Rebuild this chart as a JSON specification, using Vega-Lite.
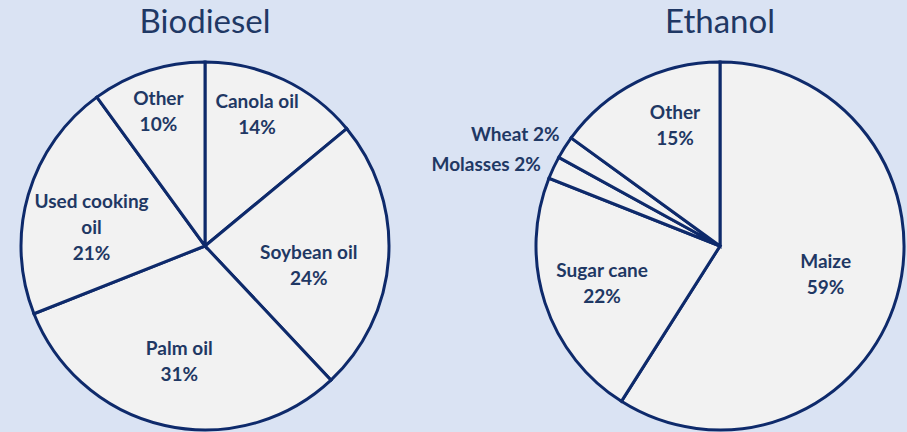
{
  "$schema": "https://vega.github.io/schema/vega-lite/v6.json",
  "background": "#dae3f3",
  "padding": {"left": 0, "right": 0, "top": 7, "bottom": 0},
  "spacing": 123,
  "bounds": "flush",
  "config": {
    "view": {"stroke": null},
    "title": {"font": "Lato", "fontSize": 33, "fontWeight": "normal", "color": "#1f3864", "offset": 16},
    "text": {"font": "Lato", "fontSize": 19, "fontWeight": "bold", "color": "#1f3864", "lineHeight": 26, "lineBreak": "\n", "baseline": "middle"}
  },
  "datasets": {
    "biodiesel": [
      {"fuel": "Canola oil", "share": 14, "o": 1, "label": "Canola oil\n14%"},
      {"fuel": "Soybean oil", "share": 24, "o": 2, "label": "Soybean oil\n24%"},
      {"fuel": "Palm oil", "share": 31, "o": 3, "label": "Palm oil\n31%"},
      {"fuel": "Used cooking oil", "share": 21, "o": 4, "label": "Used cooking\noil\n21%"},
      {"fuel": "Other", "share": 10, "o": 5, "label": "Other\n10%"}
    ],
    "ethanol": [
      {"fuel": "Maize", "share": 59, "o": 1, "label": "Maize\n59%"},
      {"fuel": "Sugar cane", "share": 22, "o": 2, "label": "Sugar cane\n22%"},
      {"fuel": "Molasses", "share": 2, "o": 3, "label": "Molasses 2%"},
      {"fuel": "Wheat", "share": 2, "o": 4, "label": "Wheat 2%"},
      {"fuel": "Other", "share": 15, "o": 5, "label": "Other\n15%"}
    ]
  },
  "hconcat": [
    {
      "title": "Biodiesel",
      "width": 410,
      "height": 376,
      "data": {"name": "biodiesel"},
      "encoding": {
        "theta": {"field": "share", "type": "quantitative", "stack": true},
        "order": {"field": "o", "type": "quantitative"}
      },
      "layer": [
        {"mark": {"type": "arc", "radius": 184, "fill": "#f2f2f2", "stroke": "#0e2a6b", "strokeWidth": 3}},
        {"mark": {"type": "text", "radius": 141, "dx": -8, "dy": -16},
         "encoding": {"text": {"condition": {"test": "datum.fuel === 'Canola oil'", "field": "label", "type": "nominal"}, "value": ""}}},
        {"mark": {"type": "text", "radius": 141, "dx": -3, "dy": -13},
         "encoding": {"text": {"condition": {"test": "datum.fuel === 'Other'", "field": "label", "type": "nominal"}, "value": ""}}},
        {"mark": {"type": "text", "radius": 104, "dx": 0, "dy": 0},
         "encoding": {"text": {"condition": {"test": "datum.fuel === 'Soybean oil'", "field": "label", "type": "nominal"}, "value": ""}}},
        {"mark": {"type": "text", "radius": 118, "dx": 0, "dy": -12},
         "encoding": {"text": {"condition": {"test": "datum.fuel === 'Palm oil'", "field": "label", "type": "nominal"}, "value": ""}}},
        {"mark": {"type": "text", "radius": 115, "dx": -3, "dy": -12},
         "encoding": {"text": {"condition": {"test": "datum.fuel === 'Used cooking oil'", "field": "label", "type": "nominal"}, "value": ""}}}
      ]
    },
    {
      "title": "Ethanol",
      "width": 374,
      "height": 376,
      "data": {"name": "ethanol"},
      "encoding": {
        "theta": {"field": "share", "type": "quantitative", "stack": true},
        "order": {"field": "o", "type": "quantitative"}
      },
      "layer": [
        {"mark": {"type": "arc", "radius": 184, "fill": "#f2f2f2", "stroke": "#0e2a6b", "strokeWidth": 3}},
        {"mark": {"type": "text", "radius": 110, "dx": 0, "dy": -15},
         "encoding": {"text": {"condition": {"test": "datum.fuel === 'Maize'", "field": "label", "type": "nominal"}, "value": ""}}},
        {"mark": {"type": "text", "radius": 124, "dx": 0, "dy": -13},
         "encoding": {"text": {"condition": {"test": "datum.fuel === 'Sugar cane'", "field": "label", "type": "nominal"}, "value": ""}}},
        {"mark": {"type": "text", "radius": 198, "dx": 0, "dy": 3, "align": "right"},
         "encoding": {"text": {"condition": {"test": "datum.fuel === 'Molasses'", "field": "label", "type": "nominal"}, "value": ""}}},
        {"mark": {"type": "text", "radius": 196, "dx": 5, "dy": -6, "align": "right"},
         "encoding": {"text": {"condition": {"test": "datum.fuel === 'Wheat'", "field": "label", "type": "nominal"}, "value": ""}}},
        {"mark": {"type": "text", "radius": 130, "dx": 14, "dy": -17},
         "encoding": {"text": {"condition": {"test": "datum.fuel === 'Other'", "field": "label", "type": "nominal"}, "value": ""}}}
      ]
    }
  ]
}
